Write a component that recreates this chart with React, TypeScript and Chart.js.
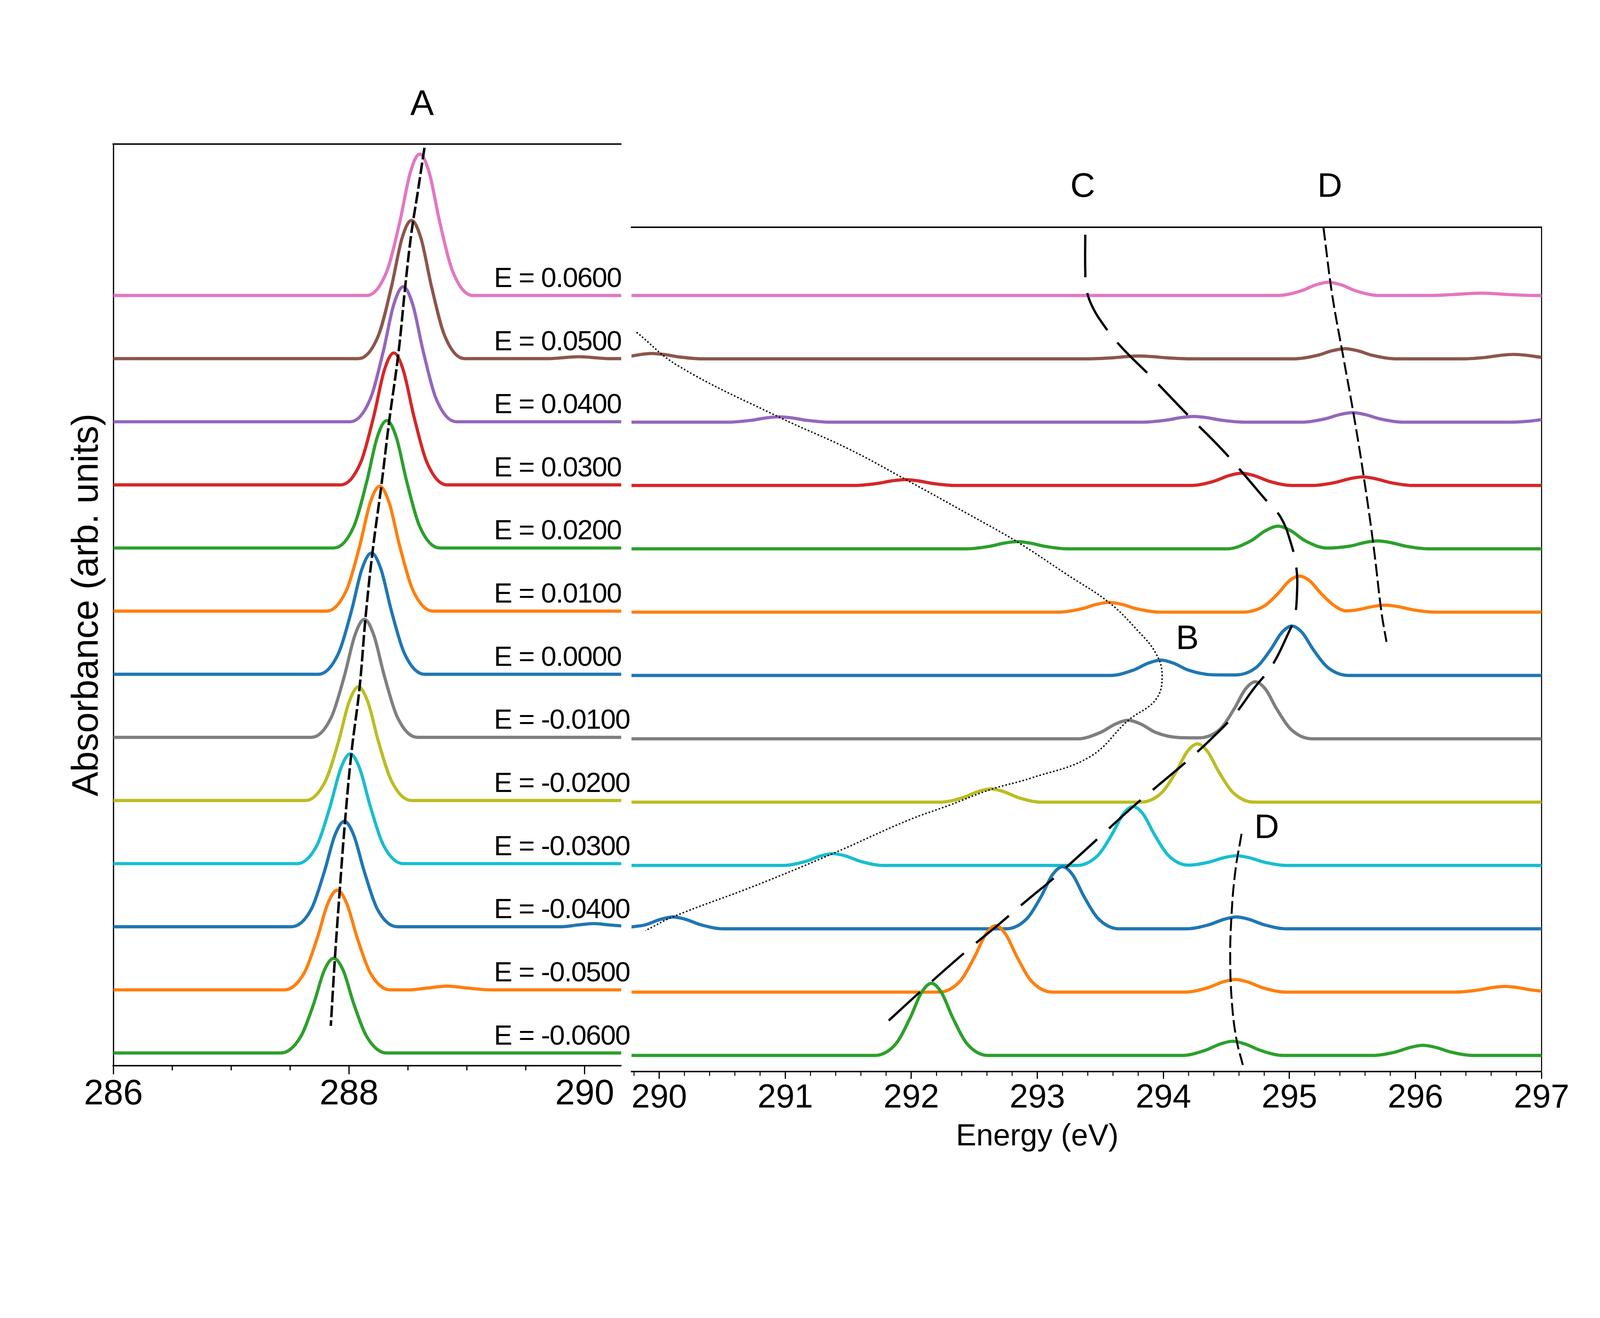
import React, { useEffect, useRef } from "react"
import { Chart, registerables } from "chart.js"

Chart.register(...registerables)

type Pt = [number, number]

// the reference is 4515 x 3375; every pixel size below is given on that grid
const REF_W = 4515
const REF_H = 3375
const FONT = '"Liberation Sans", Arial, Helvetica, sans-serif'

// field strength of each trace, bottom trace first
const fieldValues = [-0.06, -0.05, -0.04, -0.03, -0.02, -0.01, 0, 0.01, 0.02, 0.03, 0.04, 0.05, 0.06]

// tab10 colours per trace (bottom first)
const traceColors = [
  "#2ca02c", "#ff7f0e", "#1f77b4", "#17becf", "#bcbd22", "#7f7f7f", "#1f77b4",
  "#ff7f0e", "#2ca02c", "#d62728", "#9467bd", "#8c564b", "#e377c2",
]

// chart.js paints dataset 0 last, so the trace plotted last comes first
const stackOrder = [0, 1, 2, 3, 4, 5, 12, 11, 10, 9, 8, 7, 6]

// left panel (286-290 eV), intensity in units of the trace spacing
const leftCurves: Pt[][] = [
  [[286, 0], [287.42, 0], [287.59, 0.26], [287.7, 0.78], [287.79, 1.31], [287.87, 1.5], [287.95, 1.31], [288.04, 0.78], [288.15, 0.26], [288.32, 0], [290.4, 0]],
  [[286, 0], [287.45, 0], [287.62, 0.27], [287.73, 0.82], [287.82, 1.37], [287.9, 1.58], [287.98, 1.37], [288.07, 0.82], [288.18, 0.27], [288.35, 0], [288.5, 0], [288.67, 0.03], [288.83, 0.06], [289.0, 0.03], [289.2, 0], [290.4, 0]],
  [[286, 0], [287.51, 0], [287.68, 0.28], [287.79, 0.87], [287.88, 1.45], [287.96, 1.67], [288.04, 1.45], [288.13, 0.87], [288.24, 0.28], [288.41, 0], [289.8, 0], [289.95, 0.03], [290.08, 0.05], [290.2, 0.03], [290.4, 0]],
  [[286, 0], [287.56, 0], [287.73, 0.3], [287.84, 0.91], [287.93, 1.51], [288.01, 1.74], [288.09, 1.51], [288.18, 0.91], [288.29, 0.3], [288.46, 0], [290.4, 0]],
  [[286, 0], [287.63, 0], [287.8, 0.31], [287.91, 0.93], [288.0, 1.56], [288.08, 1.8], [288.16, 1.56], [288.25, 0.93], [288.36, 0.31], [288.53, 0], [290.4, 0]],
  [[286, 0], [287.68, 0], [287.85, 0.32], [287.96, 0.97], [288.05, 1.62], [288.13, 1.87], [288.21, 1.62], [288.3, 0.97], [288.41, 0.32], [288.58, 0], [290.4, 0]],
  [[286, 0], [287.74, 0], [287.91, 0.33], [288.02, 1.0], [288.11, 1.67], [288.19, 1.92], [288.27, 1.67], [288.36, 1.0], [288.47, 0.33], [288.64, 0], [290.4, 0]],
  [[286, 0], [287.81, 0], [287.98, 0.34], [288.09, 1.03], [288.18, 1.72], [288.26, 1.98], [288.34, 1.72], [288.43, 1.03], [288.54, 0.34], [288.71, 0], [290.4, 0]],
  [[286, 0], [287.87, 0], [288.04, 0.34], [288.15, 1.05], [288.24, 1.76], [288.32, 2.02], [288.4, 1.76], [288.49, 1.05], [288.6, 0.34], [288.77, 0], [290.4, 0]],
  [[286, 0], [287.93, 0], [288.1, 0.36], [288.21, 1.09], [288.3, 1.82], [288.38, 2.09], [288.46, 1.82], [288.55, 1.09], [288.66, 0.36], [288.83, 0], [290.4, 0]],
  [[286, 0], [288.01, 0], [288.18, 0.36], [288.29, 1.11], [288.38, 1.86], [288.46, 2.14], [288.54, 1.86], [288.63, 1.11], [288.74, 0.36], [288.91, 0], [290.4, 0]],
  [[286, 0], [288.08, 0], [288.25, 0.37], [288.36, 1.14], [288.45, 1.91], [288.53, 2.19], [288.61, 1.91], [288.7, 1.14], [288.81, 0.37], [288.98, 0], [289.7, 0], [289.85, 0.02], [289.95, 0.03], [290.05, 0.02], [290.2, 0], [290.4, 0]],
  [[286, 0], [288.15, 0], [288.32, 0.38], [288.43, 1.16], [288.52, 1.95], [288.6, 2.24], [288.68, 1.95], [288.77, 1.16], [288.88, 0.38], [289.05, 0], [290.4, 0]],
]

// right panel (290-297 eV)
const rightCurves: Pt[][] = [
  [[289.7, 0], [291.71, 0], [291.88, 0.19], [291.99, 0.59], [292.08, 0.99], [292.16, 1.14], [292.24, 0.99], [292.33, 0.59], [292.44, 0.19], [292.61, 0], [294.15, 0], [294.33, 0.08], [294.45, 0.18], [294.55, 0.225], [294.65, 0.18], [294.77, 0.08], [294.95, 0], [295.66, 0], [295.84, 0.054], [295.96, 0.128], [296.06, 0.16], [296.16, 0.128], [296.28, 0.054], [296.46, 0], [297.1, 0]],
  [[289.7, 0], [292.22, 0], [292.39, 0.18], [292.5, 0.55], [292.59, 0.91], [292.67, 1.05], [292.75, 0.91], [292.84, 0.55], [292.95, 0.18], [293.12, 0], [294.17, 0], [294.35, 0.068], [294.47, 0.16], [294.57, 0.2], [294.67, 0.16], [294.79, 0.068], [294.97, 0], [296.31, 0], [296.49, 0.031], [296.61, 0.072], [296.71, 0.09], [296.81, 0.072], [296.93, 0.031], [297.1, 0]],
  [[289.7, 0.015], [289.78, 0.03], [289.89, 0.063], [290.01, 0.149], [290.11, 0.186], [290.21, 0.149], [290.33, 0.063], [290.51, 0], [292.75, 0], [292.92, 0.167], [293.03, 0.51], [293.12, 0.853], [293.2, 0.98], [293.28, 0.853], [293.37, 0.51], [293.48, 0.167], [293.65, 0], [294.18, 0], [294.36, 0.063], [294.48, 0.149], [294.58, 0.186], [294.68, 0.149], [294.8, 0.063], [294.98, 0], [297.1, 0]],
  [[289.7, 0], [290.98, 0], [291.16, 0.063], [291.28, 0.149], [291.38, 0.186], [291.48, 0.149], [291.6, 0.063], [291.78, 0], [293.31, 0], [293.48, 0.158], [293.59, 0.484], [293.68, 0.809], [293.76, 0.93], [293.84, 0.809], [293.93, 0.484], [294.04, 0.158], [294.2, 0.005], [294.36, 0.052], [294.48, 0.123], [294.58, 0.154], [294.68, 0.123], [294.8, 0.052], [294.98, 0], [297.1, 0]],
  [[289.7, 0], [292.23, 0], [292.41, 0.071], [292.53, 0.168], [292.63, 0.21], [292.73, 0.168], [292.85, 0.071], [293.03, 0], [293.82, 0], [293.99, 0.156], [294.1, 0.478], [294.19, 0.8], [294.27, 0.92], [294.35, 0.8], [294.44, 0.478], [294.55, 0.156], [294.72, 0], [297.1, 0]],
  [[289.7, 0], [293.32, 0], [293.5, 0.1], [293.62, 0.234], [293.72, 0.293], [293.82, 0.234], [293.94, 0.1], [294.12, 0.02], [294.28, 0.015], [294.45, 0.153], [294.56, 0.468], [294.65, 0.783], [294.73, 0.9], [294.81, 0.783], [294.9, 0.468], [295.01, 0.153], [295.18, 0], [297.1, 0]],
  [[289.7, 0], [293.58, 0], [293.76, 0.083], [293.88, 0.194], [293.98, 0.243], [294.08, 0.194], [294.2, 0.083], [294.38, 0.012], [294.57, 0.008], [294.74, 0.133], [294.85, 0.406], [294.94, 0.679], [295.02, 0.78], [295.1, 0.679], [295.19, 0.406], [295.3, 0.133], [295.47, 0], [297.1, 0]],
  [[289.7, 0], [293.17, 0], [293.35, 0.052], [293.47, 0.123], [293.57, 0.154], [293.67, 0.123], [293.79, 0.052], [293.97, 0], [294.63, 0], [294.8, 0.097], [294.91, 0.296], [295.0, 0.496], [295.08, 0.57], [295.16, 0.496], [295.25, 0.296], [295.36, 0.097], [295.45, 0.02], [295.54, 0.037], [295.66, 0.088], [295.76, 0.11], [295.86, 0.088], [295.98, 0.037], [296.16, 0], [297.1, 0]],
  [[289.7, 0], [292.44, 0], [292.62, 0.039], [292.74, 0.091], [292.84, 0.114], [292.94, 0.091], [293.06, 0.039], [293.24, 0], [294.51, 0], [294.69, 0.121], [294.81, 0.286], [294.91, 0.357], [295.01, 0.286], [295.13, 0.121], [295.3, 0.012], [295.48, 0.043], [295.6, 0.1], [295.7, 0.125], [295.8, 0.1], [295.92, 0.043], [296.1, 0], [297.1, 0]],
  [[289.7, 0], [291.55, 0], [291.73, 0.032], [291.85, 0.074], [291.95, 0.093], [292.05, 0.074], [292.17, 0.032], [292.35, 0], [294.22, 0], [294.4, 0.066], [294.52, 0.156], [294.62, 0.195], [294.72, 0.156], [294.84, 0.066], [295.02, 0], [295.18, 0], [295.36, 0.046], [295.48, 0.108], [295.58, 0.135], [295.68, 0.108], [295.8, 0.046], [295.98, 0], [297.1, 0]],
  [[289.7, 0], [290.55, 0], [290.73, 0.029], [290.85, 0.068], [290.95, 0.085], [291.05, 0.068], [291.17, 0.029], [291.35, 0], [293.84, 0], [294.02, 0.031], [294.14, 0.072], [294.24, 0.09], [294.34, 0.072], [294.46, 0.031], [294.64, 0], [295.1, 0], [295.28, 0.051], [295.4, 0.12], [295.5, 0.15], [295.6, 0.12], [295.72, 0.051], [295.9, 0], [296.75, 0], [296.9, 0.015], [297.0, 0.04], [297.1, 0.07]],
  [[289.7, 0.03], [289.78, 0.045], [289.86, 0.07], [289.94, 0.085], [290.04, 0.068], [290.16, 0.029], [290.34, 0], [293.41, 0], [293.59, 0.015], [293.71, 0.035], [293.81, 0.044], [293.91, 0.035], [294.03, 0.015], [294.21, 0], [295.04, 0], [295.22, 0.054], [295.34, 0.128], [295.44, 0.16], [295.54, 0.128], [295.66, 0.054], [295.84, 0], [296.38, 0], [296.56, 0.024], [296.68, 0.056], [296.78, 0.07], [296.88, 0.056], [297.0, 0.024], [297.1, 0.01]],
  [[289.7, 0], [294.91, 0], [295.09, 0.071], [295.21, 0.168], [295.31, 0.21], [295.41, 0.168], [295.53, 0.071], [295.71, 0], [296.1, 0], [296.3, 0.015], [296.52, 0.037], [296.74, 0.015], [296.95, 0], [297.1, 0]],
]

// guide lines, in (energy, stacked height) coordinates
const guideA: Pt[] = [
  [288.64, 14.34], [288.58, 13.6], [288.53, 13.0], [288.48, 12.2], [288.42, 11.1], [288.34, 10.0], [288.275, 9.0],
  [288.2, 7.95], [288.14, 6.9], [288.09, 5.8], [288.02, 4.75], [287.965, 3.65], [287.92, 2.55], [287.88, 1.5], [287.845, 0.43],
]
const guideC: Pt[] = [
  [293.38, 12.96], [293.38, 12.4], [293.39, 12.1], [293.43, 11.85], [293.52, 11.55], [293.66, 11.2], [293.9, 10.72],
  [294.2, 10.1], [294.45, 9.6], [294.62, 9.22], [294.8, 8.8], [294.93, 8.5], [295.01, 8.1], [295.055, 7.7], [295.06, 7.3],
  [295.04, 6.92], [294.98, 6.62], [294.86, 6.15], [294.72, 5.8], [294.56, 5.37], [294.38, 5.0], [294.2, 4.67], [293.98, 4.3],
  [293.76, 3.93], [293.5, 3.46], [293.16, 2.85], [292.9, 2.42], [292.7, 2.08], [292.45, 1.67], [292.09, 1.04], [291.76, 0.44],
]
const guideDTop: Pt[] = [
  [295.27, 13.07], [295.34, 12], [295.43, 11], [295.52, 10], [295.6, 9], [295.67, 8], [295.73, 7], [295.77, 6.53],
]
const guideDBottom: Pt[] = [
  [294.62, 3.5], [294.57, 2.9], [294.54, 2.2], [294.53, 1.5], [294.545, 0.8], [294.58, 0.25], [294.63, -0.15],
]
const guideB: Pt[] = [
  [289.82, 11.42], [290.15, 10.89], [290.95, 10.08], [291.5, 9.58], [291.95, 9.1], [292.45, 8.55], [292.84, 8.11],
  [293.23, 7.6], [293.57, 7.15], [293.8, 6.7], [293.94, 6.35], [293.99, 6.0], [293.94, 5.62], [293.72, 5.29],
  [293.42, 4.72], [292.95, 4.38], [292.63, 4.2], [292.3, 3.95], [291.97, 3.71], [291.38, 3.19], [290.76, 2.68],
  [290.11, 2.19], [289.89, 1.97],
]

const leftMajorTicks = [286, 288, 290]
const leftMinorTicks = [286.5, 287, 287.5, 288.5, 289, 289.5]
const rightMajorTicks = [290, 291, 292, 293, 294, 295, 296, 297]
const rightMinorTicks = [
  289.8, 290.2, 290.4, 290.6, 290.8, 291.2, 291.4, 291.6, 291.8, 292.2, 292.4, 292.6, 292.8, 293.2, 293.4,
  293.6, 293.8, 294.2, 294.4, 294.6, 294.8, 295.2, 295.4, 295.6, 295.8, 296.2, 296.4, 296.6, 296.8,
]

const leftLetters = [{ text: "A", x: 288.62, y: 15.02 }]
const rightLetters = [
  { text: "C", x: 293.36, y: 13.71 },
  { text: "D", x: 295.32, y: 13.71 },
  { text: "B", x: 294.19, y: 6.57 },
  { text: "D", x: 294.82, y: 3.58 },
]
const fieldLabelEnergy = 289.23
const fieldLabelLift = 0.135

const traceDatasets = (curves: Pt[][], k: number) =>
  stackOrder.map((i) => ({
    data: curves[i].map(([x, y]) => ({ x, y: y + i })),
    borderColor: traceColors[i],
    borderWidth: 9 * k,
    borderJoinStyle: "round" as const,
    pointRadius: 0,
    cubicInterpolationMode: "monotone" as const,
    fill: false,
    xAxisID: "x",
    yAxisID: "y",
  }))

const guideDataset = (pts: Pt[], width: number, dash: number[], k: number) => ({
  data: pts.map(([x, y]) => ({ x, y })),
  borderColor: "#000",
  borderWidth: width * k,
  borderDash: dash.map((d) => d * k),
  pointRadius: 0,
  tension: 0.4,
  fill: false,
  xAxisID: "x",
  yAxisID: "y",
})

const drawMinorTicks = (chart: any, values: number[], len: number, width: number, k: number) => {
  const { ctx, chartArea } = chart
  const xs = chart.scales.x
  ctx.strokeStyle = "#000"
  ctx.lineWidth = width * k
  values.forEach((v) => {
    const px = xs.getPixelForValue(v)
    ctx.beginPath()
    ctx.moveTo(px, chartArea.bottom + 2 * k)
    ctx.lineTo(px, chartArea.bottom + (2 + len) * k)
    ctx.stroke()
  })
}

const drawLetters = (chart: any, letters: { text: string; x: number; y: number }[], size: number) => {
  const { ctx } = chart
  ctx.fillStyle = "#000"
  ctx.font = `${size}px ${FONT}`
  ctx.textAlign = "center"
  ctx.textBaseline = "middle"
  letters.forEach((l) => {
    ctx.fillText(l.text, chart.scales.x.getPixelForValue(l.x), chart.scales.y.getPixelForValue(l.y))
  })
}

const leftDecor = (k: number) => ({
  id: "leftDecor",
  afterDraw(chart: any) {
    const { ctx, chartArea } = chart
    ctx.save()
    drawMinorTicks(chart, leftMinorTicks, 11, 3.5, k)
    drawLetters(chart, leftLetters, 100 * k)

    ctx.font = `${78 * k}px ${FONT}`
    ctx.textAlign = "left"
    ctx.textBaseline = "alphabetic"
    ctx.letterSpacing = `${-2 * k}px`
    fieldValues.forEach((e, i) => {
      ctx.fillText(
        `E = ${e.toFixed(4)}`,
        chart.scales.x.getPixelForValue(fieldLabelEnergy),
        chart.scales.y.getPixelForValue(i + fieldLabelLift)
      )
    })
    ctx.letterSpacing = "0px"

    ctx.translate(chartArea.left - 73 * k, (chartArea.top + chartArea.bottom) / 2)
    ctx.rotate(-Math.PI / 2)
    ctx.font = `${104 * k}px ${FONT}`
    ctx.textAlign = "center"
    ctx.textBaseline = "middle"
    ctx.fillText("Absorbance (arb. units)", 0, 0)
    ctx.restore()
  },
})

const rightDecor = (k: number) => ({
  id: "rightDecor",
  afterDraw(chart: any) {
    const { ctx, chartArea } = chart
    ctx.save()
    drawMinorTicks(chart, rightMinorTicks, 10.5, 2.8, k)
    drawLetters(chart, rightLetters, 97 * k)
    ctx.font = `${86 * k}px ${FONT}`
    ctx.textAlign = "center"
    ctx.textBaseline = "middle"
    ctx.fillText("Energy (eV)", chartArea.left + 1145 * k, chartArea.bottom + 185 * k)
    ctx.restore()
  },
})

const frameAxis = (position: string, width: number) => ({
  type: "linear" as const,
  position,
  display: true,
  min: 0,
  max: 1,
  ticks: { display: false },
  grid: { display: false, drawTicks: false },
  border: { display: true, color: "#000", width },
  afterFit: (s: any) => {
    if (position === "top" || position === "bottom") s.height = 0
    else s.width = 0
  },
})

const buildConfig = (panel: "left" | "right", k: number): any => {
  const left = panel === "left"
  const area = left
    ? { left: 320, right: 1753, top: 407, bottom: 3008 }
    : { left: 1782, right: 4350, top: 641, bottom: 3024 }
  const majors = left ? leftMajorTicks : rightMajorTicks
  const datasets = left
    ? [guideDataset(guideA, 7, [33, 9], k), ...traceDatasets(leftCurves, k)]
    : [
        guideDataset(guideC, 6.5, [120, 45], k),
        guideDataset(guideDTop, 5.5, [36, 12], k),
        guideDataset(guideDBottom, 5.5, [36, 12], k),
        guideDataset(guideB, 4, [4.5, 5.5], k),
        ...traceDatasets(rightCurves, k),
      ]

  const scales: any = {
    x: {
      type: "linear",
      position: "bottom",
      min: left ? 286 : 289.78,
      max: left ? 290.31 : 297,
      afterBuildTicks: (s: any) => {
        s.ticks = majors.map((v) => ({ value: v }))
      },
      afterFit: (s: any) => {
        s.height = (REF_H - area.bottom) * k
      },
      ticks: {
        color: "#000",
        font: { family: FONT, size: (left ? 100 : 94) * k, lineHeight: 1.2 },
        padding: (left ? -3 : -1) * k,
        autoSkip: false,
        maxRotation: 0,
        callback: (v: number) => String(v),
      },
      grid: {
        display: true,
        drawOnChartArea: false,
        drawTicks: true,
        tickLength: (left ? 24 : 21) * k,
        tickWidth: 3.5 * k,
        tickColor: "#000",
      },
      border: { display: true, color: "#000", width: 4 * k },
    },
    y: {
      type: "linear",
      position: "left",
      display: left,
      min: left ? -0.202 : -0.252,
      max: left ? 14.397 : 13.08,
      ticks: { display: false },
      grid: { display: false, drawTicks: false },
      border: { display: true, color: "#000", width: 3.5 * k },
      afterFit: (s: any) => {
        s.width = 0
      },
    },
    xTop: frameAxis("top", 4 * k),
  }
  if (!left) scales.yR = frameAxis("right", 3 * k)

  return {
    type: "line",
    data: { datasets },
    options: {
      responsive: false,
      animation: false,
      events: [],
      layout: {
        autoPadding: false,
        padding: {
          left: area.left * k,
          right: (REF_W - area.right) * k,
          top: area.top * k,
          bottom: 0,
        },
      },
      plugins: {
        legend: { display: false },
        tooltip: { enabled: false },
        title: { display: false },
      },
      scales,
    },
    plugins: [left ? leftDecor(k) : rightDecor(k)],
  }
}

export default function App() {
  const leftRef = useRef<HTMLCanvasElement | null>(null)
  const rightRef = useRef<HTMLCanvasElement | null>(null)

  // fit the 4515 x 3375 layout into the visible page, whatever the pixel ratio
  const cssW = window.innerWidth || REF_W
  const cssH = window.innerHeight || REF_H
  const k = Math.min(cssW / REF_W, cssH / REF_H)
  const w = Math.round(REF_W * k)
  const h = Math.round(REF_H * k)

  useEffect(() => {
    const charts: Chart[] = []
    if (leftRef.current) charts.push(new Chart(leftRef.current, buildConfig("left", k)))
    if (rightRef.current) charts.push(new Chart(rightRef.current, buildConfig("right", k)))
    return () => {
      charts.forEach((c) => c.destroy())
    }
  }, [k])

  const canvasStyle: React.CSSProperties = {
    position: "absolute",
    left: 0,
    top: 0,
    width: w,
    height: h,
  }

  return (
    <div style={{ position: "fixed", left: 0, top: 0, width: "100vw", height: "100vh", background: "#fff" }}>
      <canvas ref={leftRef} width={w} height={h} style={canvasStyle} />
      <canvas ref={rightRef} width={w} height={h} style={canvasStyle} />
    </div>
  )
}
